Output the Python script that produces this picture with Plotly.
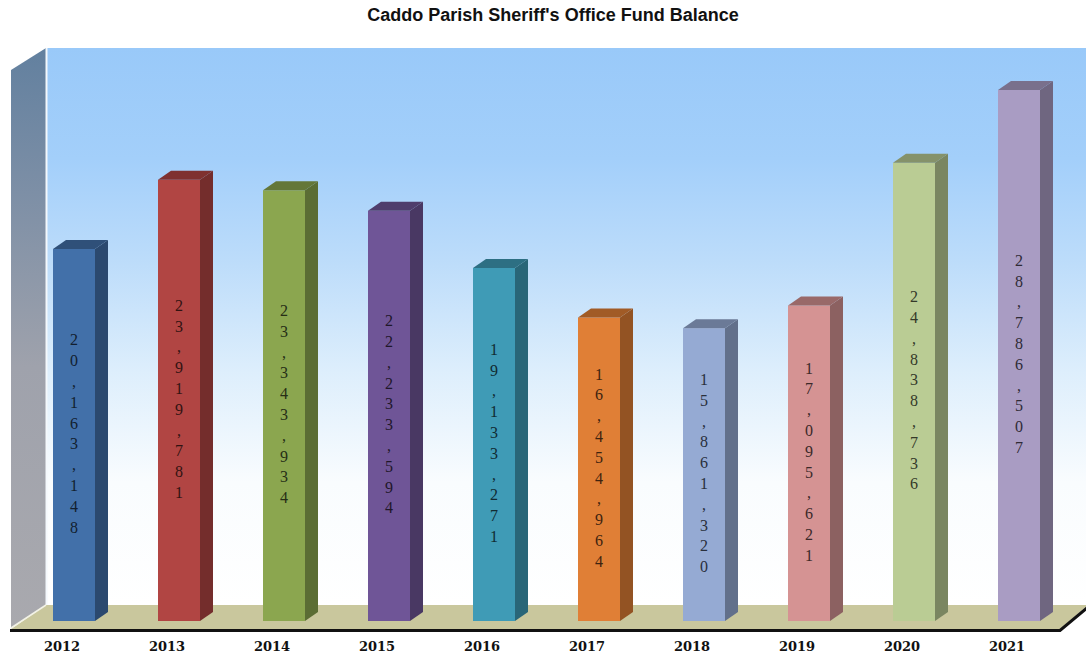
import plotly.graph_objects as go

# ---------------- data ----------------
years = ["2012", "2013", "2014", "2015", "2016", "2017", "2018", "2019", "2020", "2021"]
fund_balance = [20163148, 23919781, 23343934, 22233594, 19133271,
                16454964, 15861320, 17095621, 24838736, 28786507]
bar_colors = ["#4270A9", "#B14543", "#8BA64F", "#6F5597", "#3F9BB6",
              "#E07F36", "#95AAD3", "#D59393", "#BACC94", "#A99CC3"]
title_text = "Caddo Parish Sheriff's Office Fund Balance"

# ---------------- geometry / style helpers ----------------
W, H = 1086, 654
M_T, M_B = 30, 21
CAT_PX = 105.0          # pixels per category
CAT0_PX = 62.0          # pixel of first category centre
ZERO_PX = 621.0         # pixel row of value 0
PX_PER_UNIT = 18.45e-6  # pixels per dollar


def xd(px):
    return (px - CAT0_PX) / CAT_PX


def yd(py):
    return (ZERO_PX - py) / PX_PER_UNIT


def shade(hexcol, f):
    h = hexcol.lstrip("#")
    r, g, b = (int(h[i:i + 2], 16) for i in (0, 2, 4))
    return "#%02X%02X%02X" % (int(r * f), int(g * f), int(b * f))


BAR_W = 42 / CAT_PX
BAR_OFF = -9 / CAT_PX
DEPTH_X = 13 / CAT_PX
DEPTH_Y = 9 / PX_PER_UNIT

fig = go.Figure()


def poly(xs, ys, **kw):
    fig.add_trace(go.Scatter(x=xs + xs[:1], y=ys + ys[:1], mode="lines", fill="toself",
                             line=dict(width=0), hoverinfo="skip", showlegend=False, **kw))


def line(xs, ys, color, width):
    fig.add_trace(go.Scatter(x=xs, y=ys, mode="lines", line=dict(color=color, width=width),
                             hoverinfo="skip", showlegend=False))


# back wall (vertical gradient)
poly([xd(46), xd(1090), xd(1090), xd(46)], [yd(605), yd(605), yd(48), yd(48)],
     fillgradient=dict(type="vertical",
                       colorscale=[[0, "#FFFFFF"], [0.22, "#F9FCFE"], [0.42, "#DDEEFC"],
                                   [0.62, "#BCDCFA"], [0.8, "#A3CFFA"], [1, "#99C9F9"]]))
# left wall
poly([xd(11), xd(46), xd(46), xd(11)], [yd(628), yd(605), yd(48), yd(70)],
     fillgradient=dict(type="vertical",
                       colorscale=[[0, "#A9A9AE"], [0.45, "#9FA2AC"], [0.75, "#7D8FA6"], [1, "#62809F"]]))
line([xd(46.5), xd(46.5)], [yd(605), yd(48)], "#F4F8FC", 2)

# floor
poly([xd(11), xd(1060), xd(1088), xd(46)], [yd(629), yd(629), yd(605), yd(605)],
     fillcolor="#C9C79D")
line([xd(11), xd(46)], [yd(628), yd(605)], "#F2F2E6", 1.5)
line([xd(10), xd(1060), xd(1088)], [yd(630.5), yd(630.5), yd(607)], "#111111", 3)

# bars: front, side and top faces
for i, (v, c) in enumerate(zip(fund_balance, bar_colors)):
    xl = i + BAR_OFF
    xr = xl + BAR_W
    poly([xl, xr, xr, xl], [0, 0, v, v], fillcolor=c)
    poly([xr, xr + DEPTH_X, xr + DEPTH_X, xr], [0, DEPTH_Y, v + DEPTH_Y, v],
         fillcolor=shade(c, 0.66))
    poly([xl, xr, xr + DEPTH_X, xl + DEPTH_X], [v, v, v + DEPTH_Y, v + DEPTH_Y],
         fillcolor=shade(c, 0.72))

# value labels, one character per line, in the middle of each bar
labels = ["<br>".join(f"{v:,}") for v in fund_balance]
fig.add_trace(go.Scatter(
    x=[i + BAR_OFF + BAR_W / 2 for i in range(len(years))],
    y=[v / 2 for v in fund_balance],
    mode="text", text=labels, textposition="middle center",
    textfont=dict(family="Liberation Serif", size=16,
                  color=[shade(c, 0.28) for c in bar_colors]),
    hoverinfo="skip", showlegend=False))

idx = list(range(len(years)))
fig.update_layout(
    width=W, height=H,
    margin=dict(l=0, r=0, t=M_T, b=M_B, pad=0, autoexpand=False),
    paper_bgcolor="white", plot_bgcolor="white",
    title=dict(text=f"<b>{title_text}</b>", x=553 / W, xanchor="center",
               y=1 - 15 / H, yanchor="middle",
               font=dict(family="Liberation Sans", size=18, color="#111111")),
    xaxis=dict(range=[xd(0), xd(W)], tickmode="array", tickvals=idx, ticktext=years,
               showgrid=False, zeroline=False, showline=False, automargin=False,
               ticks="outside", ticklen=1, tickcolor="rgba(0,0,0,0)",
               tickfont=dict(family="DejaVu Serif", size=13, color="#111111", weight="bold")),
    yaxis=dict(range=[yd(H - M_B), yd(M_T)], visible=False, showgrid=False, zeroline=False,
               automargin=False),
)

fig.write_html("out.html")
